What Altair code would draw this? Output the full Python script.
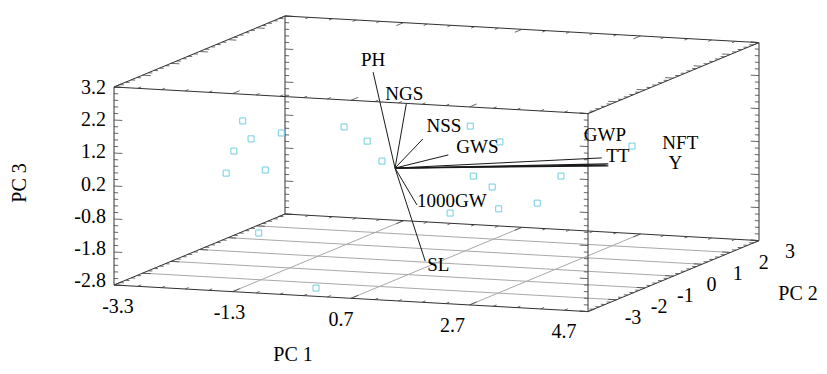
import altair as alt
import numpy as np
import pandas as pd

# ---------------- data ----------------
# observation scores (PC1, PC2, PC3)
score_pc1 = [-2.57, -2.43, -1.92, -2.72, -2.85, -2.19, -2.30, 0.11, -0.86, -0.47,
             -0.22, 1.27, 1.77, 1.32, 2.80, 1.64, 2.40, 0.93, 1.75, 4.00]
score_pc2 = [0.0, 0.0, 0.0, 0.0, 0.0, 0.0, 0.0, -3.0, 0.0, 0.0,
             0.0, 0.0, 0.0, 0.0, 0.0, 0.0, 0.0, 0.0, 0.0, 0.0]
score_pc3 = [1.17, 0.64, 0.87, 0.24, -0.44, -0.28, -2.20, -2.55, 1.16, 0.77,
             0.19, 1.40, 0.97, -0.11, 0.04, -0.41, -0.82, -1.27, -1.06, 1.07]

# variable vectors (tips)
var_names = ["PH", "NGS", "NSS", "GWS", "GWP", "TT", "NFT", "Y", "1000GW", "SL"]
var_pc1 = [-0.37, 0.19, 0.47, 0.90, 3.56, 3.49, 3.60, 3.60, 0.37, 0.51]
var_pc2 = [0.0, 0.0, 0.0, 0.0, 0.0, 0.0, 0.0, 0.0, 0.0, 0.0]
var_pc3 = [2.87, 1.96, 0.93, 0.49, 0.45, 0.66, 0.49, 0.43, -1.08, -2.77]

# axis ticks / labels
pc1_ticks = [-3.3, -1.3, 0.7, 2.7, 4.7]
pc2_ticks = [-3, -2, -1, 0, 1, 2, 3]
pc3_ticks = [3.2, 2.2, 1.2, 0.2, -0.8, -1.8, -2.8]
pc1_labels = ["-3.3", "-1.3", "0.7", "2.7", "4.7"]
pc2_labels = ["-3", "-2", "-1", "0", "1", "2", "3"]
pc3_labels = ["3.2", "2.2", "1.2", "0.2", "-0.8", "-1.8", "-2.8"]

# ---------------- layout ----------------
R1, R2, R3 = (-3.3, 4.7), (-3.0, 3.0), (-2.8, 3.2)
O = (114.0, 285.0)      # page px of the (min,min,min) corner
E1 = (474.0, 26.6)      # screen span of PC1
E2 = (171.0, -71.0)     # screen span of PC2 (depth)
E3 = (0.0, -198.0)      # screen span of PC3

label_dx = [0, -2, 21, 29, -1, 16, 72, 67, 35, 13]
label_dy = [-12, -10, -13, -8, -30, -2, -21, -3, -4, 4]
vec_width = [1, 1, 1, 1, 1.3, 1, 1.3, 1.3, 1, 1]

FONT = "Liberation Serif"


def proj(p1, p2, p3):
    a = (np.asarray(p1, float) - R1[0]) / (R1[1] - R1[0])
    b = (np.asarray(p2, float) - R2[0]) / (R2[1] - R2[0])
    c = (np.asarray(p3, float) - R3[0]) / (R3[1] - R3[0])
    sx = O[0] + a * E1[0] + b * E2[0] + c * E3[0]
    sy = O[1] + a * E1[1] + b * E2[1] + c * E3[1]
    return sx, sy


def seg_df(segs):
    rows = []
    for (a, b) in segs:
        x1, y1 = proj(*a)
        x2, y2 = proj(*b)
        rows.append(dict(x=float(x1), y=float(y1), x2=float(x2), y2=float(y2)))
    return pd.DataFrame(rows)


XS = alt.Scale(domain=[8, 819], nice=False, zero=False)
YS = alt.Scale(domain=[8, 366], reverse=True, nice=False, zero=False)


def enc_xy(chart, with2=False):
    e = dict(x=alt.X("x:Q", scale=XS, axis=None),
             y=alt.Y("y:Q", scale=YS, axis=None))
    if with2:
        e["x2"] = alt.X2("x2:Q")
        e["y2"] = alt.Y2("y2:Q")
    return chart.encode(**e)


# ---- floor grid ----
grid = []
for v in [-2, -1, 0, 1, 2]:
    grid.append(((R1[0], v, R3[0]), (R1[1], v, R3[0])))
for v in [-1.3, 0.7, 2.7]:
    grid.append(((v, R2[0], R3[0]), (v, R2[1], R3[0])))
grid_layer = enc_xy(alt.Chart(seg_df(grid)).mark_rule(color="#a8a8a8", strokeWidth=1), True)

# ---- box edges ----
edges = []
for p2 in R2:
    for p3 in R3:
        edges.append(((R1[0], p2, p3), (R1[1], p2, p3)))
for p1 in R1:
    for p3 in R3:
        edges.append(((p1, R2[0], p3), (p1, R2[1], p3)))
for p1 in R1:
    for p2 in R2:
        edges.append(((p1, p2, R3[0]), (p1, p2, R3[1])))
box_layer = enc_xy(alt.Chart(seg_df(edges)).mark_rule(color="#303030", strokeWidth=1), True)

# ---- ticks ----
ticks = []
# PC3 ticks on vertical edges (pointing along PC1)
for p1, p2, d in [(R1[0], R2[0], 1), (R1[0], R2[1], 1), (R1[1], R2[0], -1), (R1[1], R2[1], -1)]:
    for v in np.arange(R3[0], R3[1] + 1e-9, 0.2):
        major = abs(((v - R3[0]) / 1.0) - round((v - R3[0]) / 1.0)) < 1e-6
        L = 0.14 if major else 0.07
        ticks.append(((p1, p2, v), (p1 + d * L, p2, v)))
# PC2 ticks on depth edges (pointing along PC1)
for p1, p3, d in [(R1[0], R3[0], 1), (R1[0], R3[1], 1), (R1[1], R3[0], -1), (R1[1], R3[1], -1)]:
    for v in np.arange(R2[0], R2[1] + 1e-9, 0.2):
        major = abs(v - round(v)) < 1e-6
        L = 0.14 if major else 0.07
        ticks.append(((p1, v, p3), (p1 + d * L, v, p3)))
# PC1 ticks on horizontal edges (pointing along PC2)
for p2, p3, d in [(R2[0], R3[0], 1), (R2[0], R3[1], 1), (R2[1], R3[0], -1), (R2[1], R3[1], -1)]:
    for v in np.arange(R1[0], R1[1] + 1e-9, 0.4):
        major = abs(((v - R1[0]) / 2.0) - round((v - R1[0]) / 2.0)) < 1e-6
        L = 0.25 if major else 0.12
        ticks.append(((v, p2, p3), (v, p2 + d * L, p3)))
tick_layer = enc_xy(alt.Chart(seg_df(ticks)).mark_rule(color="#404040", strokeWidth=0.8), True)

# ---- score points ----
sx, sy = proj(score_pc1, score_pc2, score_pc3)
pts = pd.DataFrame(dict(x=sx, y=sy))
pts_layer = enc_xy(alt.Chart(pts).mark_point(shape="square", filled=False, size=36,
                                             color="#70cfe0", strokeWidth=1, opacity=1))

# ---- vectors ----
ox, oy = proj(0, 0, 0)
tx, ty = proj(var_pc1, var_pc2, var_pc3)
vec = pd.DataFrame(dict(name=var_names, x=float(ox), y=float(oy), x2=tx, y2=ty, w=vec_width))
vec_layer = enc_xy(alt.Chart(vec).mark_rule(color="#1a1a1a"), True).encode(
    strokeWidth=alt.StrokeWidth("w:Q", scale=None, legend=None))
lab = pd.DataFrame(dict(name=var_names, x=tx + np.array(label_dx), y=ty + np.array(label_dy)))
lab_layer = enc_xy(alt.Chart(lab).mark_text(font=FONT, fontSize=19, color="black",
                                            align="center", baseline="middle")).encode(text="name:N")

# ---- axis labels ----
def spread(ticks_, rng, a, b):
    t = (np.asarray(ticks_, float) - rng[0]) / (rng[1] - rng[0])
    return a[0] + t * (b[0] - a[0]), a[1] + t * (b[1] - a[1])

x1l, y1l = spread(pc1_ticks, R1, (118, 307), (564, 332))
x2l, y2l = spread(pc2_ticks, R2, (633, 318), (790, 252))
x3l, y3l = spread(pc3_ticks, R3, (106, 281), (106, 88))

ax1 = enc_xy(alt.Chart(pd.DataFrame(dict(x=x1l, y=y1l, t=pc1_labels))).mark_text(
    font=FONT, fontSize=20, align="center", baseline="middle", color="black")).encode(text="t:N")
ax2 = enc_xy(alt.Chart(pd.DataFrame(dict(x=x2l, y=y2l, t=pc2_labels))).mark_text(
    font=FONT, fontSize=20, align="center", baseline="middle", color="black")).encode(text="t:N")
ax3 = enc_xy(alt.Chart(pd.DataFrame(dict(x=x3l, y=y3l, t=pc3_labels))).mark_text(
    font=FONT, fontSize=20, align="right", baseline="middle", color="black")).encode(text="t:N")

titles = pd.DataFrame(dict(x=[293, 798], y=[355, 294], t=["PC 1", "PC 2"]))
tit_layer = enc_xy(alt.Chart(titles).mark_text(font=FONT, fontSize=20, align="center",
                                               baseline="middle", color="black")).encode(text="t:N")
t3 = pd.DataFrame(dict(x=[20], y=[183], t=["PC 3"]))
tit3_layer = enc_xy(alt.Chart(t3).mark_text(font=FONT, fontSize=20, align="center",
                                            baseline="middle", angle=270, color="black")).encode(text="t:N")

chart = alt.layer(grid_layer, box_layer, tick_layer, pts_layer, vec_layer, lab_layer,
                  ax1, ax2, ax3, tit_layer, tit3_layer).properties(
    width=811, height=358, padding=0, autosize="none", background="white"
).configure_view(stroke=None)

chart.save("out.html", embed_options={"renderer": "svg", "actions": False})
